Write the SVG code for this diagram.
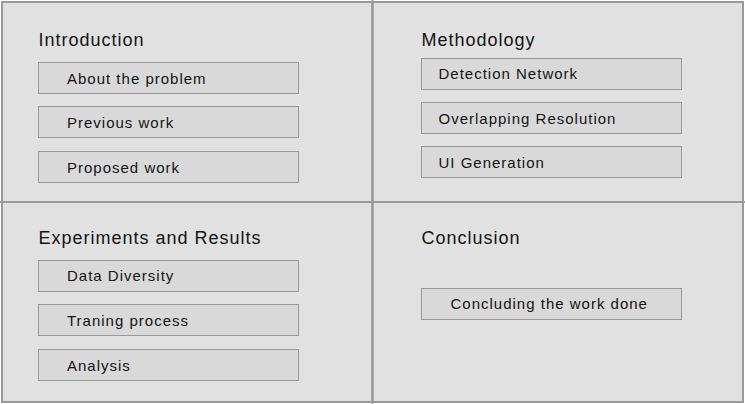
<svg xmlns="http://www.w3.org/2000/svg" width="745" height="404" viewBox="0 0 745 404">
<style>
.q{fill:#e1e1e1;stroke:#9a9a9a;stroke-width:2}
.b{fill:#d9d9d9;stroke:#999;stroke-width:1}
.h{font-family:"Liberation Sans",Arial,sans-serif;font-size:18px;letter-spacing:1px;fill:#141414}
.t{font-family:"Liberation Sans",Arial,sans-serif;font-size:15px;letter-spacing:1px;fill:#141414}
</style>
<rect x="0" y="0" width="745" height="404" fill="#ffffff"/>
<g id="quadrants">
<rect class="q" x="2" y="2" width="370.5" height="200"/>
<rect class="q" x="372.5" y="2" width="370.5" height="200"/>
<rect class="q" x="2" y="202" width="370.5" height="200"/>
<rect class="q" x="372.5" y="202" width="370.5" height="200"/>
<line x1="372.5" y1="0" x2="372.5" y2="404" stroke="#9a9a9a" stroke-width="2"/>
<line x1="0" y1="202" x2="745" y2="202" stroke="#9a9a9a" stroke-width="2"/>
</g>
<g id="introduction">
<text class="h" x="38.5" y="46.3">Introduction</text>
<g id="about"><rect class="b" x="38.5" y="62.5" width="260" height="31"/><text class="t" x="67" y="84">About the problem</text></g>
<g id="previous"><rect class="b" x="38.5" y="106.5" width="260" height="31"/><text class="t" x="67" y="128">Previous work</text></g>
<g id="proposed"><rect class="b" x="38.5" y="151.5" width="260" height="31"/><text class="t" x="67" y="172.7">Proposed work</text></g>
</g>
<g id="methodology">
<text class="h" x="421.5" y="45.8">Methodology</text>
<g id="detection"><rect class="b" x="421.5" y="58.5" width="260" height="31"/><text class="t" x="438.5" y="79.3">Detection Network</text></g>
<g id="overlap"><rect class="b" x="421.5" y="102.5" width="260" height="31"/><text class="t" x="438.5" y="124">Overlapping Resolution</text></g>
<g id="ui"><rect class="b" x="421.5" y="146.5" width="260" height="31"/><text class="t" x="438.5" y="167.7">UI Generation</text></g>
</g>
<g id="experiments">
<text class="h" x="38.5" y="243.7">Experiments and Results</text>
<g id="diversity"><rect class="b" x="38.5" y="260.5" width="260" height="31"/><text class="t" x="67" y="281.3">Data Diversity</text></g>
<g id="training"><rect class="b" x="38.5" y="304.5" width="260" height="31"/><text class="t" x="67" y="325.5">Traning process</text></g>
<g id="analysis"><rect class="b" x="38.5" y="349.5" width="260" height="31"/><text class="t" x="67" y="370.7">Analysis</text></g>
</g>
<g id="conclusion">
<text class="h" x="421.5" y="244">Conclusion</text>
<g id="concluding"><rect class="b" x="421.5" y="288.5" width="260" height="31"/><text class="t" x="450.5" y="309.3">Concluding the work done</text></g>
</g>
</svg>
